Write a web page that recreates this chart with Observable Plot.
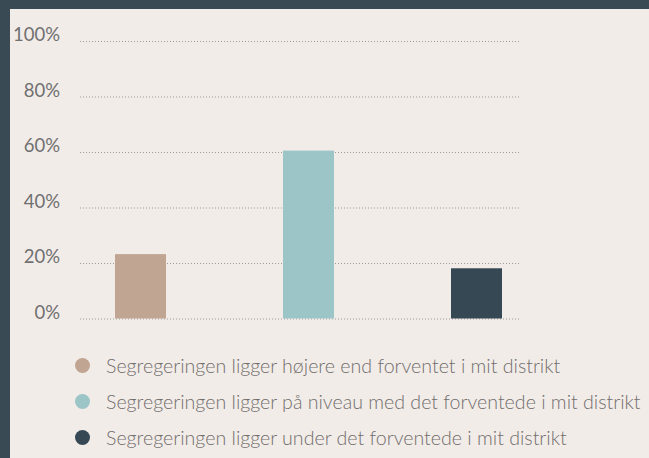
<!DOCTYPE html>
<html>
<head>
<meta charset="utf-8">
<script src="https://cdn.jsdelivr.net/npm/d3@7"></script>
<script src="https://cdn.jsdelivr.net/npm/@observablehq/plot@0.6"></script>
<style>
  html, body { margin: 0; padding: 0; }
  body { background: #3a4a55; width: 649px; height: 458px; overflow: hidden; }
  #panel { position: absolute; left: 10px; top: 9px; width: 639px; height: 449px; background: #f2ece9; overflow: hidden; }
  #chart svg { display: block; }
  #legend { position: absolute; left: 0; top: 0; font-family: Lato, sans-serif; font-weight: 300; color: #716e6c; font-size: 19.6px; }
  .item { position: absolute; white-space: nowrap; display: flex; align-items: center; }
  .dot { width: 15px; height: 15px; border-radius: 50%; margin-right: 16px; flex: none; }
</style>
</head>
<body>
<div id="panel">
  <div id="chart"></div>
  <div id="legend"></div>
</div>
<script>
const categories = [
  "Segregeringen ligger højere end forventet i mit distrikt",
  "Segregeringen ligger på niveau med det forventede i mit distrikt",
  "Segregeringen ligger under det forventede i mit distrikt"
];
const values = [0.232, 0.605, 0.181];
const colors = ["#c0a592", "#9bc5c7", "#364853"];
const yTicks = [0, 0.2, 0.4, 0.6, 0.8, 1.0];

const data = categories.map((c, i) => ({category: c, value: values[i]}));

const chart = Plot.plot({
  width: 639,
  height: 330,
  marginTop: 32,
  marginBottom: 20.5,
  marginLeft: 70,
  marginRight: 129,
  style: {background: "transparent", fontFamily: "Lato, sans-serif", fontSize: "18.5px", fontWeight: 400, color: "#707070"},
  x: {domain: categories, range: [46, 551.5], paddingInner: 0.697, paddingOuter: 0.3485, axis: null},
  y: {domain: [0, 1], ticks: yTicks, tickFormat: d => Math.round(d * 100) + "%", label: null},
  color: {domain: categories, range: colors},
  marks: [
    Plot.ruleY(yTicks, {stroke: "#9a9a9a", strokeWidth: 1, strokeDasharray: "1,2", strokeOpacity: 1}),
    Plot.axisY({ticks: yTicks, tickSize: 0, tickPadding: 20.5, tickFormat: d => Math.round(d * 100) + "%", label: null, dy: -6, fill: "#707070"}),
    Plot.barY(data, {x: "category", y: "value", fill: "category"})
  ]
});
document.getElementById("chart").appendChild(chart);

const legend = document.getElementById("legend");
const legendCenters = [356, 392, 428];
categories.forEach((c, i) => {
  const item = document.createElement("div");
  item.className = "item";
  item.style.left = "65px";
  item.style.top = (legendCenters[i] - 14) + "px";
  item.style.height = "28px";
  const dot = document.createElement("span");
  dot.className = "dot";
  dot.style.background = colors[i];
  const label = document.createElement("span");
  label.textContent = c;
  item.appendChild(dot);
  item.appendChild(label);
  legend.appendChild(item);
});
</script>
</body>
</html>
